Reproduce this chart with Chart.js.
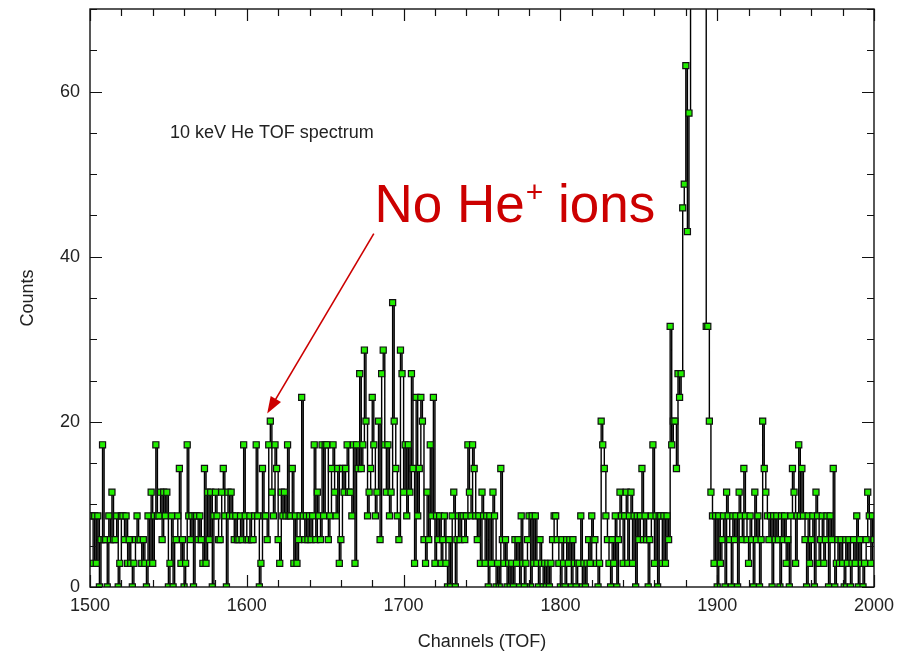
<!DOCTYPE html>
<html>
<head>
<meta charset="utf-8">
<style>
  html, body { margin: 0; padding: 0; background: #fff; }
  #tof { display: block; }
</style>
</head>
<body>

<canvas id="tof" width="899" height="657"></canvas>

<script src="https://cdn.jsdelivr.net/npm/chart.js"></script>
<script>
// raw counts per TOF channel, first entry is channel 1500
const firstChannel = 1500;
const countScale = 2.87;   // normalisation applied to the raw counts
const counts = [
  3,3,1,3,1,3,0,2,6,2, 2,0,3,2,4,2,2,3,0,1,
  3,3,2,3,1,2,1,0,1,2, 3,2,2,1,2,1,0,3,1,4,
  1,3,6,3,3,4,2,4,3,4, 0,1,3,0,2,2,3,5,1,2,
  0,1,6,3,2,3,0,3,3,2, 3,2,1,5,1,4,2,4,0,3,
  4,3,2,2,4,5,3,0,4,3, 4,3,2,3,2,2,3,2,6,3,
  2,2,3,2,2,3,6,3,0,1, 5,3,3,2,6,7,4,3,6,5,
  2,1,4,3,4,3,6,3,3,5, 1,3,1,2,3,8,3,2,3,2,
  3,2,3,6,2,4,3,2,6,3, 6,6,2,3,5,6,4,3,5,1,
  2,5,4,5,6,4,4,3,6,1, 6,5,9,5,6,10,7,3,4,5,
  8,6,3,4,7,2,9,10,6,4, 6,3,4,12,7,5,3,2,10,9,
  4,6,3,6,4,9,5,1,8,3, 5,8,7,2,1,4,2,6,3,8,
  1,3,2,3,1,2,3,1,0,2, 0,3,4,0,2,3,2,3,3,2,
  3,6,4,3,6,5,3,2,3,1, 4,3,1,3,0,3,1,4,3,0,
  1,0,5,2,1,2,0,1,0,1, 0,2,1,2,0,3,1,0,1,2,
  3,0,3,1,3,1,0,2,1,0, 1,0,1,0,1,2,3,3,2,1,
  0,2,1,0,2,1,2,0,2,1, 0,1,1,3,0,1,0,1,2,1,
  3,2,2,1,0,1,7,6,5,3, 2,1,0,2,1,3,0,2,4,3,
  1,3,4,1,3,4,1,3,0,3, 2,3,5,2,3,2,0,2,3,6,
  1,3,0,3,3,1,3,1,3,2, 11,6,7,7,5,9,8,9,16,17,
  22,15,20,28,40,55,68,72,66,54, 38,30,25,11,11,7,4,3,1,3,
  0,3,1,2,3,0,4,3,2,0, 3,2,3,0,4,3,2,5,3,2,
  1,3,2,0,4,2,3,0,2,7, 5,4,3,2,3,0,3,2,3,2,
  0,3,2,3,1,2,0,3,5,4, 1,3,6,3,5,3,2,0,3,1,
  2,3,0,4,3,1,2,3,1,2, 3,0,3,2,5,0,1,2,1,2,
  1,0,2,1,2,0,1,2,1,3, 0,2,1,0,1,2,4,3,1,3,
  2
];

// labelled ticks
const xLabels = [1500, 1600, 1700, 1800, 1900, 2000];
const yLabels = [0, 20, 40, 60];

// annotation text and arrow, in data coordinates
const spectrumNote = { text: '10 keV He TOF spectrum', x: 1551, y: 54.4 };
const ionNote = { x: 1681.4, y: 44.2 };
const arrowFrom = { x: 1681, y: 42.8 };
const arrowTo = { x: 1613, y: 21 };

const points = counts.map((c, i) => ({ x: firstChannel + i, y: c * countScale }));

const FONT = '"Liberation Sans", Arial, Helvetica, sans-serif';
Chart.defaults.font.family = FONT;
Chart.defaults.color = '#222';

// frame with inward ticks on all four sides, plus the annotations
const framePlugin = {
  id: 'framePlugin',
  afterDatasetsDraw(chart) {
    const { ctx, chartArea: a, scales: { x, y } } = chart;
    ctx.save();
    ctx.strokeStyle = '#111';
    ctx.lineWidth = 1.4;
    ctx.strokeRect(a.left, a.top, a.right - a.left, a.bottom - a.top);

    ctx.lineWidth = 1.2;
    ctx.beginPath();
    x.ticks.forEach(t => {
      const px = Math.round(x.getPixelForValue(t.value)) + 0.5;
      const len = xLabels.includes(t.value) ? 12 : 7;
      ctx.moveTo(px, a.bottom); ctx.lineTo(px, a.bottom - len);
      ctx.moveTo(px, a.top); ctx.lineTo(px, a.top + len);
    });
    y.ticks.forEach(t => {
      const py = Math.round(y.getPixelForValue(t.value)) + 0.5;
      const len = yLabels.includes(t.value) ? 12 : 7;
      ctx.moveTo(a.left, py); ctx.lineTo(a.left + len, py);
      ctx.moveTo(a.right, py); ctx.lineTo(a.right - len, py);
    });
    ctx.stroke();

    // plot note
    ctx.fillStyle = '#222';
    ctx.font = '18px ' + FONT;
    ctx.textBaseline = 'alphabetic';
    ctx.fillText(spectrumNote.text, x.getPixelForValue(spectrumNote.x), y.getPixelForValue(spectrumNote.y));

    // "No He+ ions" with a raised plus
    const red = '#cc0000';
    ctx.fillStyle = red;
    let tx = x.getPixelForValue(ionNote.x);
    const ty = y.getPixelForValue(ionNote.y);
    ctx.font = '53px ' + FONT;
    ctx.fillText('No He', tx, ty);
    tx += ctx.measureText('No He').width + 1;
    ctx.font = '30px ' + FONT;
    ctx.fillText('+', tx, ty - 20);
    tx += ctx.measureText('+').width;
    ctx.font = '53px ' + FONT;
    ctx.fillText(' ions', tx, ty);

    // arrow
    const x0 = x.getPixelForValue(arrowFrom.x), y0 = y.getPixelForValue(arrowFrom.y);
    const x1 = x.getPixelForValue(arrowTo.x), y1 = y.getPixelForValue(arrowTo.y);
    const ang = Math.atan2(y1 - y0, x1 - x0);
    const head = 17, half = 6;
    ctx.strokeStyle = red;
    ctx.lineWidth = 1.6;
    ctx.beginPath();
    ctx.moveTo(x0, y0);
    ctx.lineTo(x1 - Math.cos(ang) * head * 0.8, y1 - Math.sin(ang) * head * 0.8);
    ctx.stroke();
    ctx.beginPath();
    ctx.moveTo(x1, y1);
    ctx.lineTo(x1 - Math.cos(ang) * head - Math.sin(ang) * half, y1 - Math.sin(ang) * head + Math.cos(ang) * half);
    ctx.lineTo(x1 - Math.cos(ang) * head + Math.sin(ang) * half, y1 - Math.sin(ang) * head - Math.cos(ang) * half);
    ctx.closePath();
    ctx.fill();
    ctx.restore();
  }
};

new Chart(document.getElementById('tof'), {
  type: 'line',
  data: {
    datasets: [{
      data: points,
      stepped: 'before',
      borderColor: '#000',
      borderWidth: 1.4,
      pointStyle: 'rect',
      pointRadius: 4.3,
      pointBackgroundColor: '#22ee00',
      pointBorderColor: '#111',
      pointBorderWidth: 1.2,
      clip: 0
    }]
  },
  options: {
    responsive: false,
    animation: false,
    layout: { padding: { left: 0, top: 9, right: 25, bottom: 0 } },
    plugins: { legend: { display: false }, tooltip: { enabled: false } },
    scales: {
      x: {
        type: 'linear',
        min: 1500,
        max: 2000,
        afterFit: s => { s.height = 70; s.paddingLeft = 0; s.paddingRight = 0; },
        grid: { display: false },
        border: { display: false },
        ticks: {
          stepSize: 20,
          autoSkip: false,
          maxRotation: 0,
          padding: 0,
          font: { size: 18 },
          callback: v => xLabels.includes(v) ? String(v) : ''
        },
        title: { display: true, text: 'Channels (TOF)', font: { size: 18 }, padding: { top: 0, bottom: 4 } }
      },
      y: {
        min: 0,
        max: 70,
        afterFit: s => { s.width = 90; s.paddingTop = 0; s.paddingBottom = 0; },
        grid: { display: false },
        border: { display: false },
        ticks: {
          stepSize: 5,
          autoSkip: false,
          padding: 2,
          font: { size: 18 },
          callback: v => yLabels.includes(v) ? String(v) : ''
        },
        title: { display: true, text: 'Counts', font: { size: 18 }, padding: { top: 17, bottom: 0 } }
      }
    }
  },
  plugins: [framePlugin]
});
</script>

</body>
</html>
